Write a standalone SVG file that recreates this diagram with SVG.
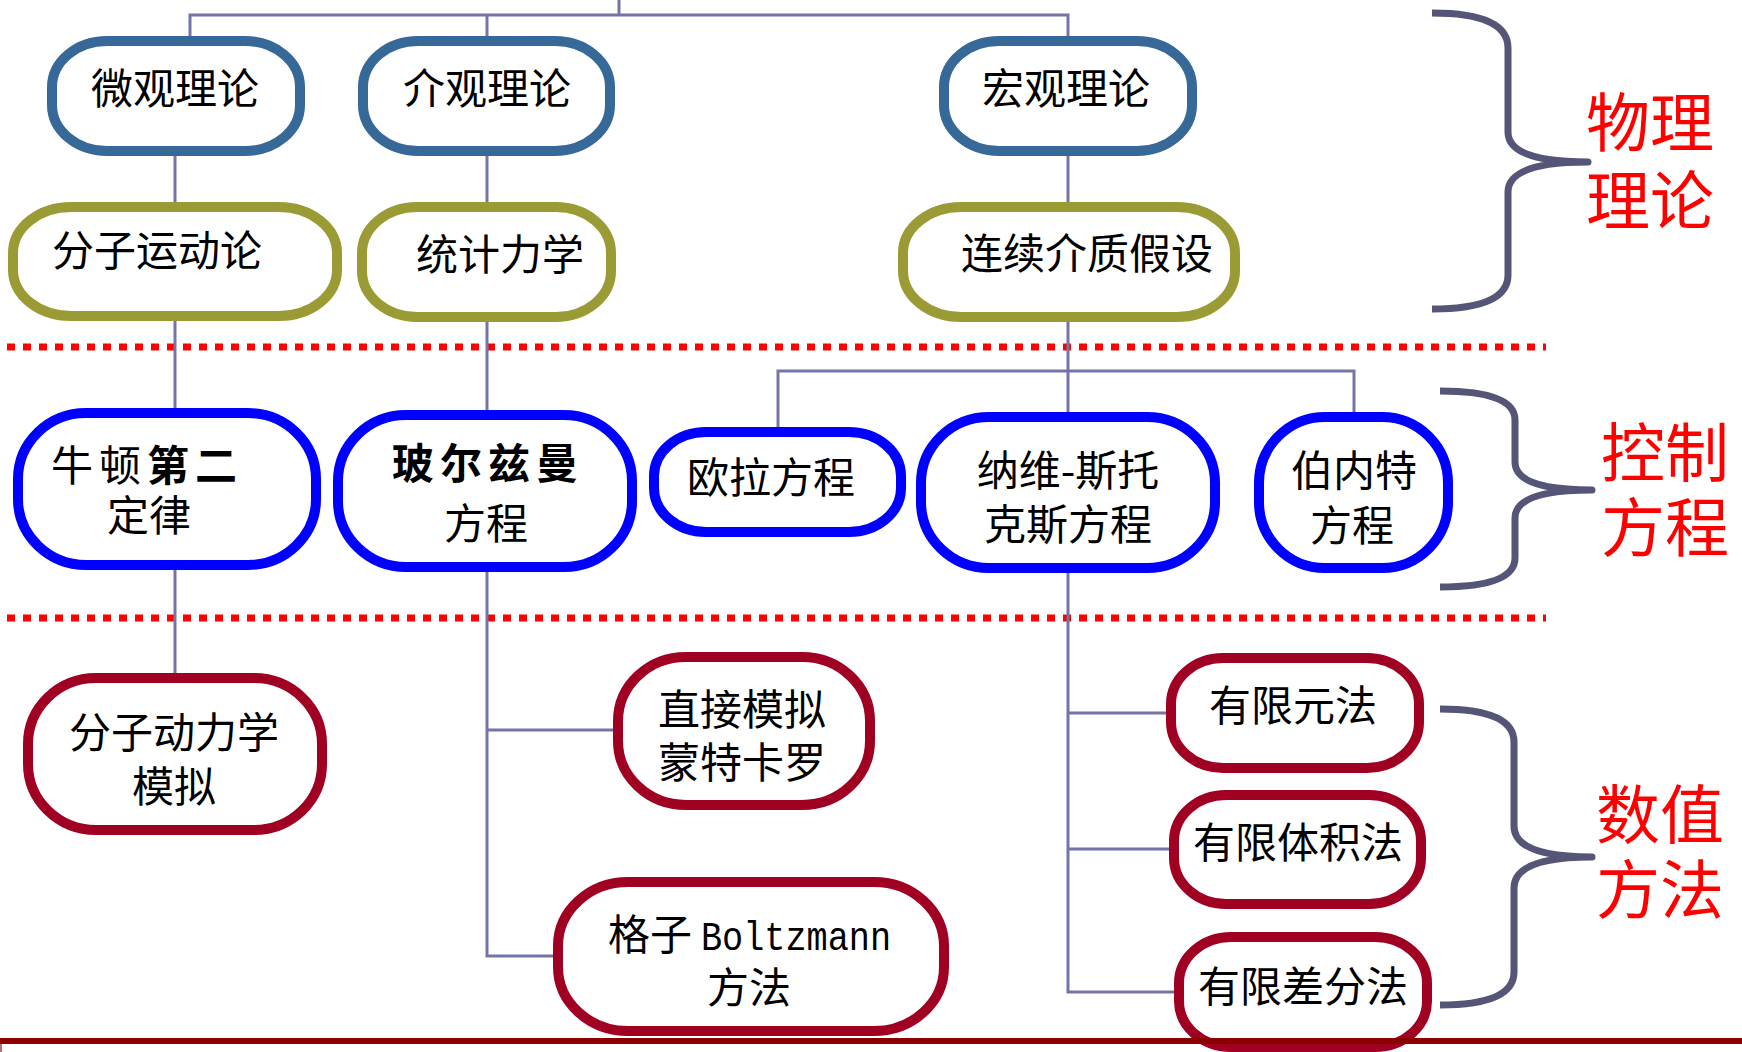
<svg xmlns="http://www.w3.org/2000/svg" width="1742" height="1052" viewBox="0 0 1742 1052">
<style>
.t{font-family:"Noto Sans CJK SC","Noto Sans",sans-serif;font-size:42px;fill:#000;text-anchor:middle}
.b{font-weight:bold}
.m{font-family:"Liberation Mono",monospace;font-size:40px}
.lab{font-family:"Noto Sans CJK SC","Noto Sans",sans-serif;font-size:64px;fill:#FF0000;text-anchor:middle}
.n{fill:#fff;stroke-width:10}
.steel{stroke:#366898}
.olive{stroke:#9B9B35}
.blue{stroke:#0000FF}
.red{stroke:#A00022}
.c{fill:none;stroke:#7474A8;stroke-width:3}
.dot{stroke:#FF0000;stroke-width:7;stroke-dasharray:8 8}
.brace{fill:none;stroke:#555577;stroke-width:7;stroke-linejoin:round}
</style>
<rect width="1742" height="1052" fill="#fff"/>
<g id="separators">
<line class="dot" x1="7" y1="347" x2="1546" y2="347"/>
<line class="dot" x1="7" y1="618" x2="1546" y2="618"/>
</g>
<g id="connectors">
<path class="c" d="M619,0 V15 M190,36 V15 H1068 V36 M487,15 V36"/>
<path class="c" d="M175,156 V202 M175,321 V408 M175,570 V673"/>
<path class="c" d="M487,156 V202 M487,322 V410 M487,572 V956 H553 M487,730 H613"/>
<path class="c" d="M1068,156 V202 M1068,322 V412 M778,427 V371 H1354 V412 M1068,573 V992 H1174 M1068,713 H1166 M1068,849 H1169"/>
</g>
<g id="n1"><rect class="n steel" x="52" y="41" width="248" height="110" rx="55" ry="46"/><text class="t" x="175" y="104">微观理论</text></g>
<g id="n2"><rect class="n steel" x="363" y="41" width="247" height="110" rx="55" ry="46"/><text class="t" x="487" y="104">介观理论</text></g>
<g id="n3"><rect class="n steel" x="944" y="41" width="248" height="110" rx="55" ry="46"/><text class="t" x="1066" y="104">宏观理论</text></g>
<g id="n4"><rect class="n olive" x="13" y="207" width="324" height="109" rx="58" ry="46"/><text class="t" x="157" y="266">分子运动论</text></g>
<g id="n5"><rect class="n olive" x="362" y="207" width="249" height="110" rx="55" ry="46"/><text class="t" x="500" y="270">统计力学</text></g>
<g id="n6"><rect class="n olive" x="903" y="207" width="332" height="110" rx="58" ry="46"/><text class="t" x="1087" y="269">连续介质假设</text></g>
<g id="n7"><rect class="n blue" x="18" y="413" width="298" height="152" rx="68" ry="66"/><text class="t" x="147" y="481" letter-spacing="6">牛顿<tspan class="b">第二</tspan></text><text class="t" x="149" y="531">定律</text></g>
<g id="n8"><rect class="n blue" x="338" y="415" width="294" height="152" rx="68" ry="66"/><text class="t b" x="488" y="479" letter-spacing="6">玻尔兹曼</text><text class="t" x="486" y="539">方程</text></g>
<g id="n9"><rect class="n blue" x="654" y="432" width="247" height="100" rx="52" ry="44"/><text class="t" x="771" y="493">欧拉方程</text></g>
<g id="n10"><rect class="n blue" x="921" y="417" width="294" height="151" rx="68" ry="66"/><text class="t" x="1068" y="486">纳维-斯托</text><text class="t" x="1068" y="540">克斯方程</text></g>
<g id="n11"><rect class="n blue" x="1259" y="417" width="189" height="151" rx="66" ry="66"/><text class="t" x="1354" y="486">伯内特</text><text class="t" x="1352" y="541">方程</text></g>
<g id="n12"><rect class="n red" x="28" y="678" width="294" height="152" rx="68" ry="66"/><text class="t" x="174" y="748">分子动力学</text><text class="t" x="174" y="802">模拟</text></g>
<g id="n13"><rect class="n red" x="618" y="657" width="252" height="148" rx="68" ry="64"/><text class="t" x="742" y="725">直接模拟</text><text class="t" x="742" y="778">蒙特卡罗</text></g>
<g id="n14"><rect class="n red" x="558" y="882" width="386" height="149" rx="70" ry="64"/><text class="t" x="608" y="950" style="text-anchor:start">格子 <tspan class="m" x="701" textLength="190" lengthAdjust="spacingAndGlyphs">Boltzmann</tspan></text><text class="t" x="749" y="1003">方法</text></g>
<g id="n15"><rect class="n red" x="1171" y="658" width="248" height="110" rx="52" ry="46"/><text class="t" x="1293" y="721">有限元法</text></g>
<g id="n16"><rect class="n red" x="1174" y="795" width="247" height="109" rx="52" ry="46"/><text class="t" x="1298" y="858">有限体积法</text></g>
<g id="n17"><rect class="n red" x="1179" y="937" width="248" height="110" rx="52" ry="46"/><text class="t" x="1303" y="1002">有限差分法</text></g>
<g id="braces">
<path class="brace" d="M1432,13 Q1508,13 1508,48 L1508,132 Q1508,162 1588,162 Q1508,162 1508,192 L1508,275 Q1508,309 1432,309"/>
<path class="brace" d="M1440,391 Q1515,391 1515,420 L1515,462 Q1515,490 1592,490 Q1515,490 1515,518 L1515,558 Q1515,587 1440,587"/>
<path class="brace" d="M1440,709 Q1514,709 1514,742 L1514,826 Q1514,857 1592,857 Q1514,857 1514,888 L1514,972 Q1514,1005 1440,1005"/>
</g>
<g id="labels">
<text class="lab" x="1650" y="146">物理<tspan x="1650" dy="78">理论</tspan></text>
<text class="lab" x="1665" y="476">控制<tspan x="1665" dy="75">方程</tspan></text>
<text class="lab" x="1660" y="838">数值<tspan x="1660" dy="75">方法</tspan></text>
</g>
<g id="footer">
<line x1="0" y1="1041" x2="1742" y2="1041" stroke="#8B0000" stroke-width="6"/>
<line x1="1" y1="1044" x2="1" y2="1052" stroke="#A04040" stroke-width="1.5"/>
</g>
</svg>
